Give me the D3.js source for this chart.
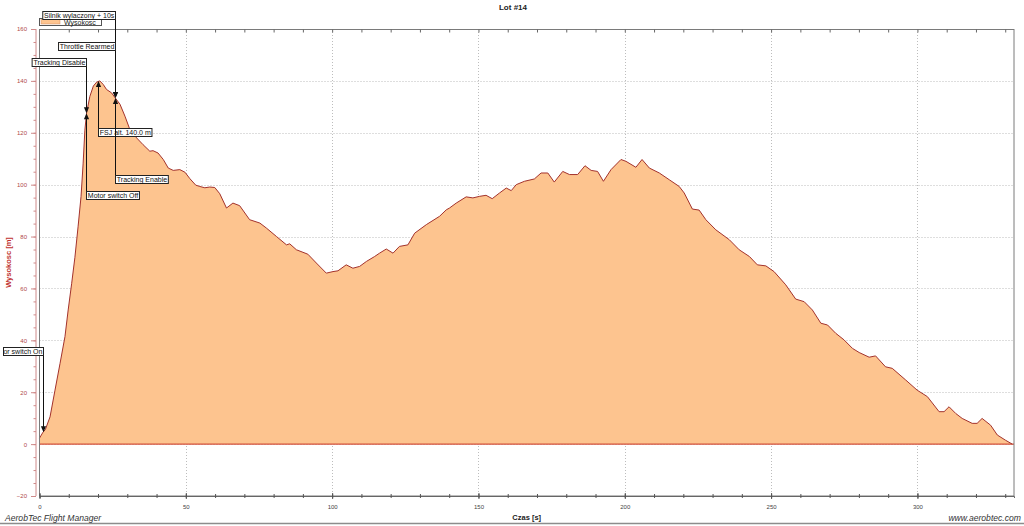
<!DOCTYPE html>
<html><head><meta charset="utf-8">
<script src="https://cdn.jsdelivr.net/npm/d3@7"></script>
<style>
body{margin:0;background:#fff;}
svg{display:block;font-family:"Liberation Sans",Arial,sans-serif;}
</style>
</head><body>
<svg id="chart" width="1024" height="526"></svg>
<script>
// ---------- data ----------
const times = [0,1.2,2.0,3.6,5.3,7.0,8.7,9.8,11.0,12.1,13.2,14.2,14.9,15.5,16.1,17.2,18.4,19.5,20.6,21.8,22.9,24.6,25.9,27.5,29.2,30.9,33.2,35.4,37.7,38.8,40.5,42.3,44.0,45.7,47.95,49.7,51.4,53.4,54.8,56.5,58.2,59.9,61.6,63.9,66.1,68.4,71.8,75.3,77.5,81.0,84.4,85.5,87.8,91.7,94.6,98.0,100.3,102.0,104.8,107.1,109.4,111.7,114.5,116.2,118.5,120.8,123.0,125.9,128.2,132.2,136.7,139.0,140.1,142.4,145.8,148.1,150.4,152.6,154.7,157.2,159.5,161.2,162.9,165.7,169.1,171.4,173.7,175.9,178.8,181.1,183.9,186.4,188.5,190.7,192.7,195.3,198.7,200.4,203.8,205.9,208.4,211.8,215.2,218.6,220.3,223.1,225.4,227.7,231.1,235.7,239.1,242.6,245.3,248.2,251.0,255.0,258.4,261.3,264.1,267.0,269.3,272.1,274.9,277.8,280.1,283.5,285.7,289.1,291.4,296.0,299.9,303.4,307.4,309.1,310.8,313.1,315.3,318.7,320.4,322.1,325.0,327.3,330.1,332.4];
const altitudes = [2.3,4.6,5.6,10.5,20.8,31,41.4,51.7,62,72,84,95.5,108,121,127.7,134,138,139.5,140,138.6,136.7,135.4,133.4,131,126.4,121.2,118,115.4,112.9,113.1,112.2,109.7,106.4,105.5,105.8,104.8,102.3,99.8,99.3,98.8,99.1,98.9,96.5,91,92.9,91.9,86.5,85.2,83.3,80,76.8,77.2,74.9,73.2,69.8,65.9,66.5,66.8,69.1,67.8,68.5,70.4,72.3,73.6,75.2,73.6,76.2,76.8,81.3,84.6,87.8,90.3,91,92.9,95.3,94.9,95.5,95.9,94.6,96.8,98.7,97.7,100,101.3,102.2,104.5,104.5,101,105.1,103.9,103.9,107.3,105.5,105.1,101.3,105.8,109.7,109,106.7,109.7,106.4,104.5,101.9,99.3,96.8,90.6,90.2,86.5,82.6,78.8,74.9,72.3,69.1,68.7,66.5,61.4,55.9,54.9,51.7,46.6,45.9,42.7,40.2,36.9,35.3,33.5,34,29.8,29.2,24.7,20.8,18.3,12.5,12.5,14.4,11.8,9.9,8,8,9.9,7.3,3.5,1.5,0];

const xMajorTicks = [0,50,100,150,200,250,300];
const yMajorTicks = [-20,0,20,40,60,80,100,120,140,160];

const annLabels = ["Motor switch On","Tracking Disable","Motor switch Off","FSJ alt. 140.0 m","Silnik wylaczony + 10s","Throttle Rearmed","Tracking Enable"];
const annTimes  = [1.2,15.9,15.9,20.0,25.9,25.9,25.9];
const annAlts   = [4.6,127.5,127.5,140.0,133.4,133.4,133.4];

const titleText = "Lot #14";
const xTitle = "Czas [s]";
const yTitle = "Wysokosc [m]";
const seriesName = "Wysokosc";

// ---------- layout ----------
const annBoxTop = [347.5,58.5,191.5,128.5,11.5,42.5,175.5];
const annBoxSide = ["left","left","right","right","left","left","right"];

const svg = d3.select("#chart");
const L = 39.5, R = 1014, T = 29, B = 496;
const x = d3.scaleLinear().domain([0,333]).range([L,R]);
const y = d3.scaleLinear().domain([-20,160]).range([B,T]);
const data = times.map((t,i)=>({t, a: altitudes[i]}));

// title
svg.append("text").attr("x",513).attr("y",10).attr("text-anchor","middle")
  .attr("font-size",8).attr("font-weight","bold").attr("fill","#222").text(titleText);

// grid
const grid = svg.append("g").attr("stroke","#bdbdbd").attr("stroke-dasharray","1,2").attr("stroke-width",1);
xMajorTicks.filter(v=>v>0).forEach(v=>{
  grid.append("line").attr("x1",Math.round(x(v))+0.5).attr("x2",Math.round(x(v))+0.5).attr("y1",T).attr("y2",B);
});
yMajorTicks.filter(v=>v>-20 && v<160).forEach(v=>{
  grid.append("line").attr("x1",L).attr("x2",R).attr("y1",Math.round(y(v))+0.5).attr("y2",Math.round(y(v))+0.5);
});

// area
const area = d3.area().x(d=>x(d.t)).y0(y(0)).y1(d=>y(d.a));
svg.append("path").datum(data).attr("d",area).attr("fill","#fdc48f");
svg.append("line").attr("x1",L).attr("x2",R).attr("y1",y(0)).attr("y2",y(0))
  .attr("stroke","#d4503a").attr("stroke-width",1.3);
const line = d3.line().x(d=>x(d.t)).y(d=>y(d.a));
svg.append("path").datum(data).attr("d",line).attr("fill","none")
  .attr("stroke","#a3322c").attr("stroke-width",1);

// frame
svg.append("rect").attr("x",L).attr("y",T+0.5).attr("width",R-L).attr("height",B-T-0.5)
  .attr("fill","none").attr("stroke","#7a7a7a").attr("stroke-width",1);

// top ticks (mirrored)
const topAxis = d3.axisTop(x).tickValues(d3.range(10,333,10)).tickSize(-3).tickFormat("");
svg.append("g").attr("transform",`translate(0,${T+0.5})`).call(topAxis)
  .call(g=>g.select(".domain").remove())
  .call(g=>g.selectAll("line").attr("stroke","#666"));

// bottom axis
const xMinor = d3.axisBottom(x).tickValues(d3.range(0,333,10)).tickSize(2).tickFormat("");
svg.append("g").attr("transform",`translate(0,${B})`).call(xMinor)
  .call(g=>g.select(".domain").attr("stroke","#666"))
  .call(g=>g.selectAll(".tick line").attr("y1",-2).attr("y2",2).attr("stroke","#555"));
const xMajor = d3.axisBottom(x).tickValues(xMajorTicks).tickSize(3).tickPadding(6);
svg.append("g").attr("transform",`translate(0,${B})`).call(xMajor)
  .call(g=>g.select(".domain").remove())
  .call(g=>g.selectAll(".tick line").attr("y1",-3).attr("y2",3).attr("stroke","#555"))
  .call(g=>g.selectAll("text").attr("font-size",6).attr("fill","#444").attr("font-family","Liberation Sans, Arial, sans-serif"));

// left axis (red)
const yAxisX = 36;
const yMinor = d3.axisLeft(y).tickValues(d3.range(-20,161,5)).tickSize(2.5).tickFormat("");
svg.append("g").attr("transform",`translate(${yAxisX},0)`).call(yMinor)
  .call(g=>g.select(".domain").attr("stroke","#cf8a8a").attr("d",`M0,${T}V${B}`))
  .call(g=>g.selectAll(".tick line").attr("stroke","#cf8a8a"));
const yMajor = d3.axisLeft(y).tickValues(yMajorTicks).tickSize(5).tickPadding(4);
svg.append("g").attr("transform",`translate(${yAxisX},0)`).call(yMajor)
  .call(g=>g.select(".domain").remove())
  .call(g=>g.selectAll(".tick line").attr("stroke","#cf8a8a"))
  .call(g=>g.selectAll("text").attr("font-size",6).attr("fill","#b0474a").attr("font-family","Liberation Sans, Arial, sans-serif"));

// axis titles
svg.append("text").attr("transform",`translate(11,${(T+B)/2}) rotate(-90)`).attr("text-anchor","middle")
  .attr("font-size",7.5).attr("font-weight","bold").attr("fill","#c0302e").text(yTitle);
svg.append("text").attr("x",(L+R)/2).attr("y",519.5).attr("text-anchor","middle")
  .attr("font-size",7.5).attr("font-weight","bold").attr("fill","#222").text(xTitle);

// legend
const lg = svg.append("g");
lg.append("rect").attr("x",39.5).attr("y",18.5).attr("width",62).attr("height",7).attr("fill","#fff").attr("stroke","#555");
lg.append("rect").attr("x",41).attr("y",19.5).attr("width",19).attr("height",4.5).attr("fill","#fdc48f").attr("stroke","#d08a60").attr("stroke-width",0.5);
lg.append("text").attr("x",64).attr("y",25).attr("font-size",7).attr("fill","#222").text(seriesName);

// annotations
const defs = svg.append("defs");
const ann = svg.append("g");
annLabels.forEach((lab,i)=>{
  const px = Math.round(x(annTimes[i]))+0.5, py = y(annAlts[i]);
  const top = annBoxTop[i], h = 8;
  const tmp = ann.append("text").attr("font-size",7).text(lab);
  const tw = tmp.node().getComputedTextLength(); tmp.remove();
  const w = tw + 2.5;
  let x0 = annBoxSide[i]==="left" ? px - w : px;
  const bx = Math.max(3.5, x0);
  const bw = (x0 + w) - bx;
  const above = top < py;
  // connector
  const ly1 = above ? top + h : top;
  const tipY = py;
  ann.append("line").attr("x1",px).attr("x2",px).attr("y1",ly1)
     .attr("y2", above ? tipY-5 : tipY+5).attr("stroke","#111").attr("stroke-width",1);
  const tri = above ? `M${px-2.6},${tipY-6}L${px+2.6},${tipY-6}L${px},${tipY}Z`
                    : `M${px-2.6},${tipY+6}L${px+2.6},${tipY+6}L${px},${tipY}Z`;
  ann.append("path").attr("d",tri).attr("fill","#111");
  // box
  const cid = "clipAnn"+i;
  defs.append("clipPath").attr("id",cid).append("rect").attr("x",bx).attr("y",top).attr("width",bw).attr("height",h);
  ann.append("rect").attr("x",bx).attr("y",top).attr("width",bw).attr("height",h)
     .attr("fill","#fff").attr("stroke","#222").attr("stroke-width",1);
  ann.append("text").attr("x",x0+1.3).attr("y",top+6.6).attr("font-size",7).attr("fill","#111")
     .attr("clip-path",`url(#${cid})`).text(lab);
});

// footer
svg.append("line").attr("x1",0).attr("x2",1024).attr("y1",523.5).attr("y2",523.5).attr("stroke","#8c8c8c").attr("stroke-width",1.5);
svg.append("text").attr("x",5).attr("y",521).attr("font-size",8.6).attr("font-style","italic").attr("fill","#333").text("AerobTec Flight Manager");
svg.append("text").attr("x",1021).attr("y",521).attr("text-anchor","end").attr("font-size",8.6).attr("font-style","italic").attr("fill","#333").text("www.aerobtec.com");
</script>
</body></html>
